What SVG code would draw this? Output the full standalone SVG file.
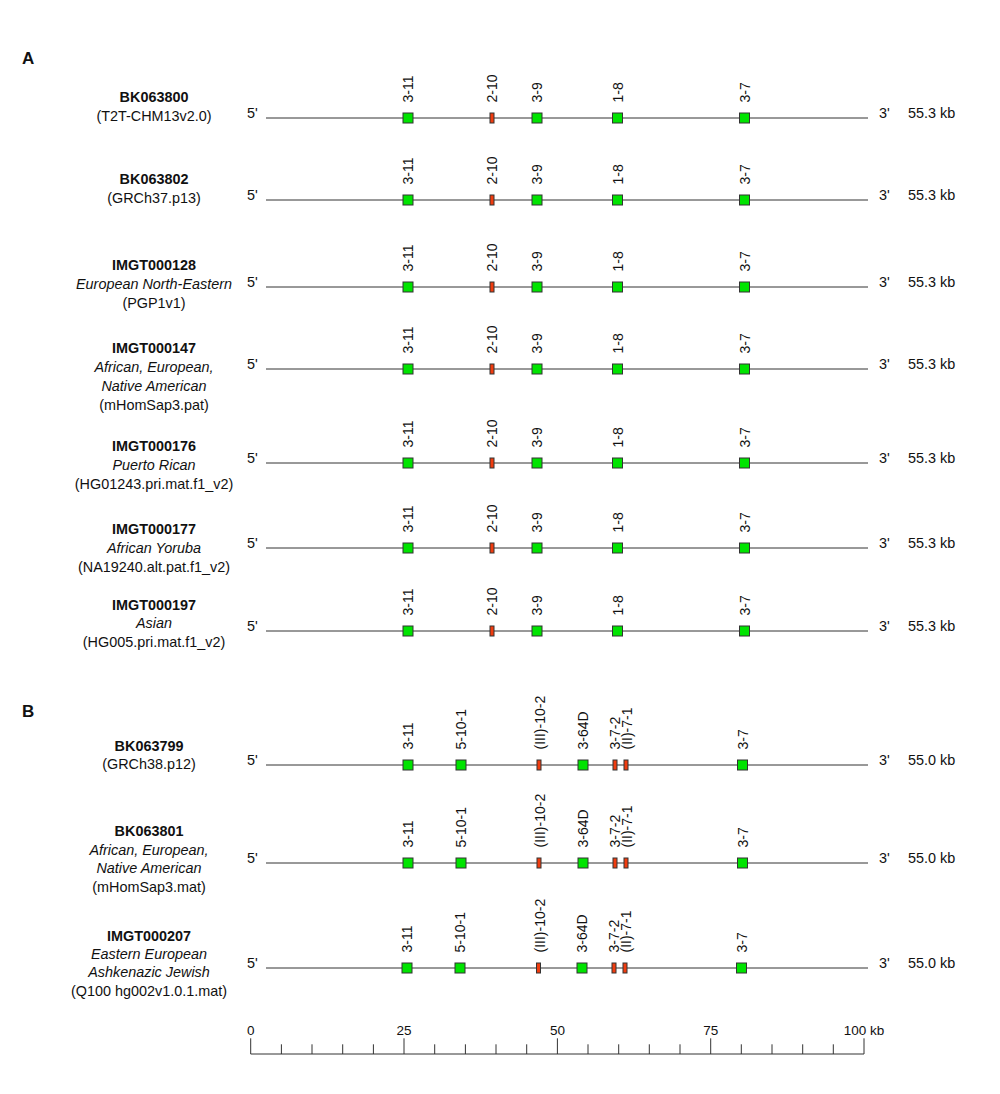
<svg xmlns="http://www.w3.org/2000/svg" xmlns:xlink="http://www.w3.org/1999/xlink" width="1000" height="1094" viewBox="0 0 1000 1094">
<style>
text{font-family:"Liberation Sans",Arial,Helvetica,sans-serif;fill:#111}
.lbl{font-size:14.4px;text-anchor:middle}
.b{font-weight:bold}
.i{font-style:italic}
.end{font-size:14.4px}
.gl{font-size:14px}
.sc{font-size:13.5px;text-anchor:middle}
.panel{font-size:17px;font-weight:bold}
.ln{stroke:#333;stroke-width:1;fill:none}
.gb{fill:#00e400;stroke:#333;stroke-width:1}
.rb{fill:#f03c0f;stroke:#333;stroke-width:1}
.scale{stroke:#333;stroke-width:1;fill:none}
</style>
<defs>
<rect id="gbox" x="-5" y="-5" width="10" height="10" class="gb"/>
<rect id="rbox" x="-2" y="-5" width="4" height="10" class="rb"/>
</defs>
<rect width="1000" height="1094" fill="#fff"/>

<text class="panel" x="22" y="64">A</text>
<text class="panel" x="22" y="717">B</text>

<!-- Panel A -->
<g id="row-BK063800">
<text class="lbl"><tspan class="b" x="154" y="102">BK063800</tspan><tspan x="154" y="121">(T2T-CHM13v2.0)</tspan></text>
<g transform="translate(0,118)">
<line class="ln" x1="266" y1="0" x2="868" y2="0"/>
<text class="end" x="247" y="0">5'</text><text class="end" x="879" y="0">3'</text><text class="end" x="908" y="0">55.3 kb</text>
<use href="#gbox" x="408" y="0"/><use href="#rbox" x="492" y="0"/><use href="#gbox" x="537" y="0"/><use href="#gbox" x="617.5" y="0"/><use href="#gbox" x="744.5" y="0"/>
<text class="gl" transform="translate(413,-15.5) rotate(-90)">3-11</text>
<text class="gl" transform="translate(497,-15.5) rotate(-90)">2-10</text>
<text class="gl" transform="translate(542,-15.5) rotate(-90)">3-9</text>
<text class="gl" transform="translate(622.5,-15.5) rotate(-90)">1-8</text>
<text class="gl" transform="translate(749.5,-15.5) rotate(-90)">3-7</text>
</g>
</g>

<g id="row-BK063802">
<text class="lbl"><tspan class="b" x="154" y="184">BK063802</tspan><tspan x="154" y="202.5">(GRCh37.p13)</tspan></text>
<g transform="translate(0,200)">
<line class="ln" x1="266" y1="0" x2="868" y2="0"/>
<text class="end" x="247" y="0">5'</text><text class="end" x="879" y="0">3'</text><text class="end" x="908" y="0">55.3 kb</text>
<use href="#gbox" x="408" y="0"/><use href="#rbox" x="492" y="0"/><use href="#gbox" x="537" y="0"/><use href="#gbox" x="617.5" y="0"/><use href="#gbox" x="744.5" y="0"/>
<text class="gl" transform="translate(413,-15.5) rotate(-90)">3-11</text>
<text class="gl" transform="translate(497,-15.5) rotate(-90)">2-10</text>
<text class="gl" transform="translate(542,-15.5) rotate(-90)">3-9</text>
<text class="gl" transform="translate(622.5,-15.5) rotate(-90)">1-8</text>
<text class="gl" transform="translate(749.5,-15.5) rotate(-90)">3-7</text>
</g>
</g>

<g id="row-IMGT000128">
<text class="lbl"><tspan class="b" x="154" y="269.5">IMGT000128</tspan><tspan class="i" x="154" y="288.5">European North-Eastern</tspan><tspan x="154" y="307.5">(PGP1v1)</tspan></text>
<g transform="translate(0,287)">
<line class="ln" x1="266" y1="0" x2="868" y2="0"/>
<text class="end" x="247" y="0">5'</text><text class="end" x="879" y="0">3'</text><text class="end" x="908" y="0">55.3 kb</text>
<use href="#gbox" x="408" y="0"/><use href="#rbox" x="492" y="0"/><use href="#gbox" x="537" y="0"/><use href="#gbox" x="617.5" y="0"/><use href="#gbox" x="744.5" y="0"/>
<text class="gl" transform="translate(413,-15.5) rotate(-90)">3-11</text>
<text class="gl" transform="translate(497,-15.5) rotate(-90)">2-10</text>
<text class="gl" transform="translate(542,-15.5) rotate(-90)">3-9</text>
<text class="gl" transform="translate(622.5,-15.5) rotate(-90)">1-8</text>
<text class="gl" transform="translate(749.5,-15.5) rotate(-90)">3-7</text>
</g>
</g>

<g id="row-IMGT000147">
<text class="lbl"><tspan class="b" x="154" y="352.5">IMGT000147</tspan><tspan class="i" x="154" y="371.5">African, European,</tspan><tspan class="i" x="154" y="390.5">Native American</tspan><tspan x="154" y="409.5">(mHomSap3.pat)</tspan></text>
<g transform="translate(0,369)">
<line class="ln" x1="266" y1="0" x2="868" y2="0"/>
<text class="end" x="247" y="0">5'</text><text class="end" x="879" y="0">3'</text><text class="end" x="908" y="0">55.3 kb</text>
<use href="#gbox" x="408" y="0"/><use href="#rbox" x="492" y="0"/><use href="#gbox" x="537" y="0"/><use href="#gbox" x="617.5" y="0"/><use href="#gbox" x="744.5" y="0"/>
<text class="gl" transform="translate(413,-15.5) rotate(-90)">3-11</text>
<text class="gl" transform="translate(497,-15.5) rotate(-90)">2-10</text>
<text class="gl" transform="translate(542,-15.5) rotate(-90)">3-9</text>
<text class="gl" transform="translate(622.5,-15.5) rotate(-90)">1-8</text>
<text class="gl" transform="translate(749.5,-15.5) rotate(-90)">3-7</text>
</g>
</g>

<g id="row-IMGT000176">
<text class="lbl"><tspan class="b" x="154" y="451">IMGT000176</tspan><tspan class="i" x="154" y="470">Puerto Rican</tspan><tspan x="154" y="489">(HG01243.pri.mat.f1_v2)</tspan></text>
<g transform="translate(0,463)">
<line class="ln" x1="266" y1="0" x2="868" y2="0"/>
<text class="end" x="247" y="0">5'</text><text class="end" x="879" y="0">3'</text><text class="end" x="908" y="0">55.3 kb</text>
<use href="#gbox" x="408" y="0"/><use href="#rbox" x="492" y="0"/><use href="#gbox" x="537" y="0"/><use href="#gbox" x="617.5" y="0"/><use href="#gbox" x="744.5" y="0"/>
<text class="gl" transform="translate(413,-15.5) rotate(-90)">3-11</text>
<text class="gl" transform="translate(497,-15.5) rotate(-90)">2-10</text>
<text class="gl" transform="translate(542,-15.5) rotate(-90)">3-9</text>
<text class="gl" transform="translate(622.5,-15.5) rotate(-90)">1-8</text>
<text class="gl" transform="translate(749.5,-15.5) rotate(-90)">3-7</text>
</g>
</g>

<g id="row-IMGT000177">
<text class="lbl"><tspan class="b" x="154" y="533.5">IMGT000177</tspan><tspan class="i" x="154" y="552.5">African Yoruba</tspan><tspan x="154" y="571.5">(NA19240.alt.pat.f1_v2)</tspan></text>
<g transform="translate(0,548)">
<line class="ln" x1="266" y1="0" x2="868" y2="0"/>
<text class="end" x="247" y="0">5'</text><text class="end" x="879" y="0">3'</text><text class="end" x="908" y="0">55.3 kb</text>
<use href="#gbox" x="408" y="0"/><use href="#rbox" x="492" y="0"/><use href="#gbox" x="537" y="0"/><use href="#gbox" x="617.5" y="0"/><use href="#gbox" x="744.5" y="0"/>
<text class="gl" transform="translate(413,-15.5) rotate(-90)">3-11</text>
<text class="gl" transform="translate(497,-15.5) rotate(-90)">2-10</text>
<text class="gl" transform="translate(542,-15.5) rotate(-90)">3-9</text>
<text class="gl" transform="translate(622.5,-15.5) rotate(-90)">1-8</text>
<text class="gl" transform="translate(749.5,-15.5) rotate(-90)">3-7</text>
</g>
</g>

<g id="row-IMGT000197">
<text class="lbl"><tspan class="b" x="154" y="609.5">IMGT000197</tspan><tspan class="i" x="154" y="628">Asian</tspan><tspan x="154" y="647">(HG005.pri.mat.f1_v2)</tspan></text>
<g transform="translate(0,631)">
<line class="ln" x1="266" y1="0" x2="868" y2="0"/>
<text class="end" x="247" y="0">5'</text><text class="end" x="879" y="0">3'</text><text class="end" x="908" y="0">55.3 kb</text>
<use href="#gbox" x="408" y="0"/><use href="#rbox" x="492" y="0"/><use href="#gbox" x="537" y="0"/><use href="#gbox" x="617.5" y="0"/><use href="#gbox" x="744.5" y="0"/>
<text class="gl" transform="translate(413,-15.5) rotate(-90)">3-11</text>
<text class="gl" transform="translate(497,-15.5) rotate(-90)">2-10</text>
<text class="gl" transform="translate(542,-15.5) rotate(-90)">3-9</text>
<text class="gl" transform="translate(622.5,-15.5) rotate(-90)">1-8</text>
<text class="gl" transform="translate(749.5,-15.5) rotate(-90)">3-7</text>
</g>
</g>

<!-- Panel B -->
<g id="row-BK063799">
<text class="lbl"><tspan class="b" x="149" y="750.5">BK063799</tspan><tspan x="149" y="768.5">(GRCh38.p12)</tspan></text>
<g transform="translate(0,765)">
<line class="ln" x1="266" y1="0" x2="868" y2="0"/>
<text class="end" x="247" y="0">5'</text><text class="end" x="879" y="0">3'</text><text class="end" x="908" y="0">55.0 kb</text>
<use href="#gbox" x="408" y="0"/><use href="#gbox" x="461" y="0"/><use href="#rbox" x="539" y="0"/><use href="#gbox" x="583" y="0"/><use href="#rbox" x="615" y="0"/><use href="#rbox" x="626" y="0"/><use href="#gbox" x="742.5" y="0"/>
<text class="gl" transform="translate(413,-15.5) rotate(-90)">3-11</text>
<text class="gl" transform="translate(466,-15.5) rotate(-90)">5-10-1</text>
<text class="gl" transform="translate(545,-15.5) rotate(-90)">(III)-10-2</text>
<text class="gl" transform="translate(588,-15.5) rotate(-90)">3-64D</text>
<text class="gl" transform="translate(620,-15.5) rotate(-90)">3-7-2</text>
<text class="gl" transform="translate(632,-15.5) rotate(-90)">(II)-7-1</text>
<text class="gl" transform="translate(747.5,-15.5) rotate(-90)">3-7</text>
</g>
</g>

<g id="row-BK063801">
<text class="lbl"><tspan class="b" x="149" y="835.5">BK063801</tspan><tspan class="i" x="149" y="854.5">African, European,</tspan><tspan class="i" x="149" y="873">Native American</tspan><tspan x="149" y="891.5">(mHomSap3.mat)</tspan></text>
<g transform="translate(0,863)">
<line class="ln" x1="266" y1="0" x2="868" y2="0"/>
<text class="end" x="247" y="0">5'</text><text class="end" x="879" y="0">3'</text><text class="end" x="908" y="0">55.0 kb</text>
<use href="#gbox" x="408" y="0"/><use href="#gbox" x="461" y="0"/><use href="#rbox" x="539" y="0"/><use href="#gbox" x="583" y="0"/><use href="#rbox" x="615" y="0"/><use href="#rbox" x="626" y="0"/><use href="#gbox" x="742.5" y="0"/>
<text class="gl" transform="translate(413,-15.5) rotate(-90)">3-11</text>
<text class="gl" transform="translate(466,-15.5) rotate(-90)">5-10-1</text>
<text class="gl" transform="translate(545,-15.5) rotate(-90)">(III)-10-2</text>
<text class="gl" transform="translate(588,-15.5) rotate(-90)">3-64D</text>
<text class="gl" transform="translate(620,-15.5) rotate(-90)">3-7-2</text>
<text class="gl" transform="translate(632,-15.5) rotate(-90)">(II)-7-1</text>
<text class="gl" transform="translate(747.5,-15.5) rotate(-90)">3-7</text>
</g>
</g>

<g id="row-IMGT000207">
<text class="lbl"><tspan class="b" x="149" y="940.5">IMGT000207</tspan><tspan class="i" x="149" y="959">Eastern European</tspan><tspan class="i" x="149" y="977">Ashkenazic Jewish</tspan><tspan x="149" y="995.5">(Q100 hg002v1.0.1.mat)</tspan></text>
<g transform="translate(0,968)">
<line class="ln" x1="266" y1="0" x2="868" y2="0"/>
<text class="end" x="247" y="0">5'</text><text class="end" x="879" y="0">3'</text><text class="end" x="908" y="0">55.0 kb</text>
<use href="#gbox" x="407" y="0"/><use href="#gbox" x="460" y="0"/><use href="#rbox" x="538.5" y="0"/><use href="#gbox" x="582" y="0"/><use href="#rbox" x="614" y="0"/><use href="#rbox" x="625" y="0"/><use href="#gbox" x="741.5" y="0"/>
<text class="gl" transform="translate(412,-15.5) rotate(-90)">3-11</text>
<text class="gl" transform="translate(465,-15.5) rotate(-90)">5-10-1</text>
<text class="gl" transform="translate(544.5,-15.5) rotate(-90)">(III)-10-2</text>
<text class="gl" transform="translate(587,-15.5) rotate(-90)">3-64D</text>
<text class="gl" transform="translate(619,-15.5) rotate(-90)">3-7-2</text>
<text class="gl" transform="translate(631,-15.5) rotate(-90)">(II)-7-1</text>
<text class="gl" transform="translate(746.5,-15.5) rotate(-90)">3-7</text>
</g>
</g>

<!-- Scale bar -->
<g id="scale">
<path class="scale" d="M250.7 1054H864M250.7 1038.3V1054M404 1038.3V1054M557.4 1038.3V1054M710.7 1038.3V1054M864 1038.3V1054M281.4 1044.3V1054M312 1044.3V1054M342.7 1044.3V1054M373.4 1044.3V1054M434.7 1044.3V1054M465.4 1044.3V1054M496 1044.3V1054M526.7 1044.3V1054M588 1044.3V1054M618.7 1044.3V1054M649.3 1044.3V1054M680 1044.3V1054M741.3 1044.3V1054M772 1044.3V1054M802.7 1044.3V1054M833.3 1044.3V1054"/>
<text class="sc" x="250.7" y="1035">0</text>
<text class="sc" x="404" y="1035">25</text>
<text class="sc" x="557.4" y="1035">50</text>
<text class="sc" x="710.7" y="1035">75</text>
<text class="sc" x="864" y="1035">100 kb</text>
</g>
</svg>
